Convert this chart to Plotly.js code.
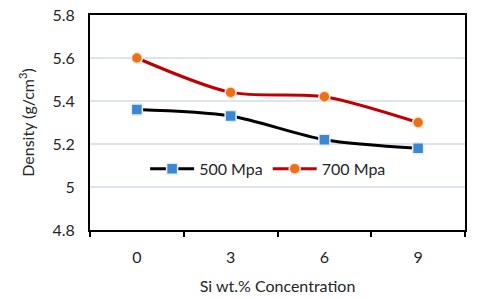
<!DOCTYPE html>
<html><head><meta charset="utf-8">
<script src="https://cdn.plot.ly/plotly-3.0.1.min.js"></script>
<style>html,body{margin:0;padding:0;background:#fff}#c{width:480px;height:299px}</style>
</head><body><div id="c"></div>
<script>
const categories = ['0', '3', '6', '9'];
const density500 = [5.36, 5.33, 5.22, 5.18];
const density700 = [5.60, 5.44, 5.42, 5.30];
const yTicks = [4.8, 5.0, 5.2, 5.4, 5.6, 5.8];
const yTickLabels = ['4.8', '5', '5.2', '5.4', '5.6', '5.8'];

const traces = [
  {x: categories, y: density500, name: '500 Mpa', type: 'scatter', mode: 'lines+markers',
   line: {color: '#000000', width: 3, shape: 'spline', smoothing: 0.8},
   marker: {symbol: 'square', size: 11, color: '#3a87d2', line: {color: '#e8eef5', width: 1.5}}},
  {x: categories, y: density700, name: '700 Mpa', type: 'scatter', mode: 'lines+markers',
   line: {color: '#c00000', width: 3, shape: 'spline', smoothing: 0.8},
   marker: {symbol: 'circle', size: 11, color: '#ec7114', line: {color: '#f5e8e0', width: 1.5}}}
];
const layout = {
  width: 480, height: 299,
  margin: {l: 90, r: 15, t: 15, b: 69},
  paper_bgcolor: '#fff', plot_bgcolor: '#fff',
  font: {family: 'Lato, "Open Sans", sans-serif', size: 16, color: '#262626'},
  showlegend: true,
  legend: {orientation: 'h', x: 0.475, y: 0.285, xanchor: 'center', yanchor: 'middle',
           bgcolor: 'rgba(0,0,0,0)', font: {size: 16, color: '#262626'}, itemwidth: 44},
  xaxis: {type: 'category', range: [-0.5, 3.5], showgrid: false, showline: true, linecolor: '#000', linewidth: 2,
          mirror: true, ticks: 'outside', ticklen: 5, tickcolor: '#000', tickwidth: 2,
          tickson: 'boundaries', zeroline: false, ticklabelstandoff: 12,
          title: {text: 'Si wt.% Concentration', font: {size: 16}, standoff: 16}},
  yaxis: {range: [4.8, 5.8], tickvals: yTicks, ticktext: yTickLabels, showgrid: true, gridcolor: '#dde4ec', gridwidth: 1.5,
          showline: true, linecolor: '#000', linewidth: 2, mirror: true, ticks: '', zeroline: false,
          ticklabelstandoff: 10,
          title: {text: 'Density (g/cm<sup>3</sup>)', font: {size: 16}, standoff: 14}}
};
Plotly.newPlot('c', traces, layout, {displayModeBar: false, staticPlot: true});
</script></body></html>
